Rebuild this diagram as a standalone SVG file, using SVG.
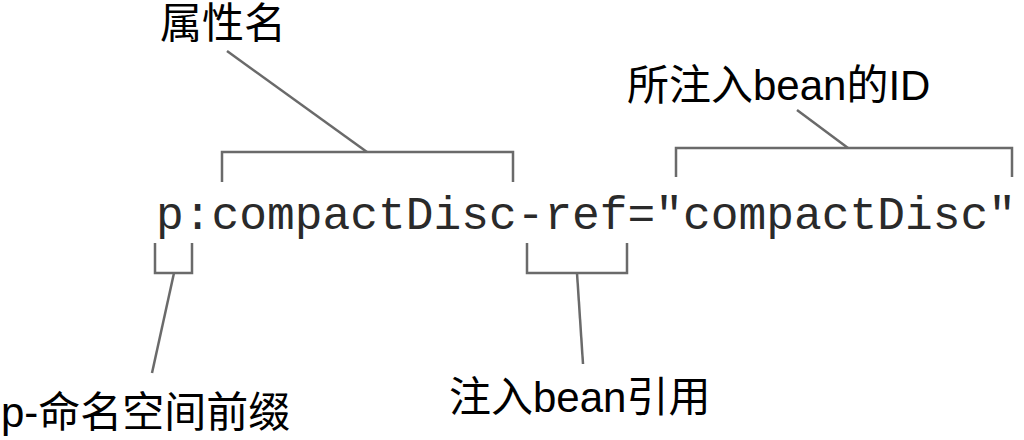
<svg xmlns="http://www.w3.org/2000/svg" width="1024" height="440" viewBox="0 0 1024 440">
<style>
.ln{fill:none;stroke:#6a6a6a;stroke-width:2.5;stroke-linecap:butt;stroke-linejoin:miter}
.lbl{font-family:"Liberation Sans","Noto Sans CJK SC",sans-serif;font-size:42px;fill:#000}
.code{font-family:"Liberation Mono","Courier New",monospace;font-size:46px;fill:#2a2a2a}
</style>
<rect width="1024" height="440" fill="#fff"/>
<g id="code">
<text class="code" x="156" y="229" textLength="860" lengthAdjust="spacingAndGlyphs">p:compactDisc-ref="compactDisc"</text>
</g>
<g id="label-attr"><text class="lbl" x="160" y="38">属性名</text></g>
<g id="label-id"><text class="lbl" x="627" y="100">所注入bean的ID</text></g>
<g id="label-prefix"><text class="lbl" x="1" y="427">p-命名空间前缀</text></g>
<g id="label-ref"><text class="lbl" x="449" y="412">注入bean引用</text></g>
<g id="connectors">
<path class="ln" d="M222,182 V152 H513 V182"/>
<path class="ln" d="M227,51 L367,152"/>
<path class="ln" d="M676,177 V148 H1012 V177"/>
<path class="ln" d="M797,110 L848,148"/>
<path class="ln" d="M155,243 V273 H192 V243"/>
<path class="ln" d="M174,273 L152,373"/>
<path class="ln" d="M527,243 V273 H627 V243"/>
<path class="ln" d="M577,273 L583,364"/>
</g>
</svg>
